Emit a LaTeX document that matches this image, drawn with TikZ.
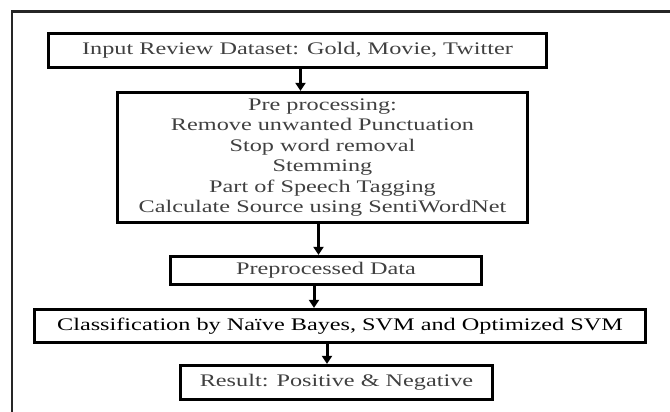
\documentclass[tikz,border=0pt]{standalone}
\usepackage{fontspec}
\setmainfont{Liberation Serif}[FakeStretch=1.37]
\usetikzlibrary{arrows.meta}

\tikzset{
  flowbox/.style={draw=black, line width=3.2pt, rectangle, inner sep=0pt,
    align=center, text=black!75, font=\fontsize{17.7}{20.5}\selectfont},
  flowarrow/.style={line width=3pt, -{Triangle[length=8pt,width=10pt]}},
  frameline/.style={line width=2.2pt, black!85}
}

\begin{document}
\begin{tikzpicture}[x=1pt, y=-1pt]
  \useasboundingbox (0,0) rectangle (670,412);

  % page frame (top and left edges only)
  \coordinate (fr1) at (12,412);
  \coordinate (fr2) at (12,11.5);
  \coordinate (fr3) at (670,11.5);
  \draw[frameline] (fr1) -- (fr2) -- (fr3);

  % process boxes
  \node[flowbox, minimum width=498pt, minimum height=34pt] (input) at (297.5,50.5)
    {Input Review Dataset: Gold, Movie, Twitter};
  \node[flowbox, minimum width=410pt, minimum height=130pt] (prep) at (322.5,157.5)
    {Pre processing:\\ Remove unwanted Punctuation\\ Stop word removal\\ Stemming\\
     Part of Speech Tagging\\ Calculate Source using SentiWordNet};
  \node[flowbox, minimum width=311pt, minimum height=28pt] (data) at (326,270.5)
    {Preprocessed Data};
  \node[flowbox, text=black, minimum width=611pt, minimum height=33pt] (classify) at (340,326)
    {Classification by Naïve Bayes, SVM and Optimized SVM};
  \node[flowbox, minimum width=312pt, minimum height=34pt] (result) at (336.5,382.5)
    {Result: Positive \& Negative};

  % arrow columns
  \coordinate (c1) at (300.5,0);
  \coordinate (c2) at (318.5,0);
  \coordinate (c3) at (314,0);
  \coordinate (c4) at (327,0);

  \draw[flowarrow] (input.south -| c1) -- (prep.north -| c1);
  \draw[flowarrow] (prep.south -| c2) -- (data.north -| c2);
  \draw[flowarrow] (data.south -| c3) -- (classify.north -| c3);
  \draw[flowarrow] (classify.south -| c4) -- (result.north -| c4);
\end{tikzpicture}
\end{document}
